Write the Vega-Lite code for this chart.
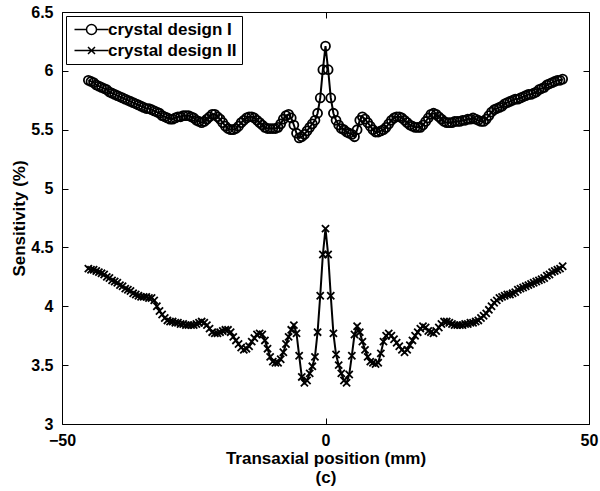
{
"$schema": "https://vega.github.io/schema/vega-lite/v6.json",
"width": 527, "height": 412,
"autosize": {"type": "none"},
"padding": {"left": 62, "top": 12, "right": 11, "bottom": 67},
"background": "white",
"config": {"view": {"stroke": "black", "strokeWidth": 1}, "font": "Liberation Sans"},
"data": {"values": [
{"x":-45,"I":5.92,"II":4.32},{"x":-44.5,"I":5.91,"II":4.31},{"x":-44,"I":5.90,"II":4.31},{"x":-43.5,"I":5.88,"II":4.30},{"x":-43,"I":5.87,"II":4.29},{"x":-42.5,"I":5.86,"II":4.28},{"x":-42,"I":5.85,"II":4.27},{"x":-41.5,"I":5.84,"II":4.25},{"x":-41,"I":5.82,"II":4.24},{"x":-40.5,"I":5.81,"II":4.22},
{"x":-40,"I":5.80,"II":4.21},{"x":-39.5,"I":5.79,"II":4.20},{"x":-39,"I":5.78,"II":4.18},{"x":-38.5,"I":5.77,"II":4.17},{"x":-38,"I":5.76,"II":4.15},{"x":-37.5,"I":5.75,"II":4.14},{"x":-37,"I":5.74,"II":4.13},{"x":-36.5,"I":5.73,"II":4.11},{"x":-36,"I":5.72,"II":4.10},{"x":-35.5,"I":5.71,"II":4.09},
{"x":-35,"I":5.70,"II":4.08},{"x":-34.5,"I":5.69,"II":4.08},{"x":-34,"I":5.68,"II":4.08},{"x":-33.5,"I":5.68,"II":4.07},{"x":-33,"I":5.67,"II":4.07},{"x":-32.5,"I":5.66,"II":4.05},{"x":-32,"I":5.65,"II":4.00},{"x":-31.5,"I":5.64,"II":3.96},{"x":-31,"I":5.62,"II":3.93},{"x":-30.5,"I":5.61,"II":3.90},
{"x":-30,"I":5.60,"II":3.88},{"x":-29.5,"I":5.59,"II":3.87},{"x":-29,"I":5.59,"II":3.87},{"x":-28.5,"I":5.60,"II":3.86},{"x":-28,"I":5.61,"II":3.86},{"x":-27.5,"I":5.61,"II":3.85},{"x":-27,"I":5.62,"II":3.85},{"x":-26.5,"I":5.62,"II":3.84},{"x":-26,"I":5.62,"II":3.84},{"x":-25.5,"I":5.61,"II":3.84},
{"x":-25,"I":5.60,"II":3.84},{"x":-24.5,"I":5.58,"II":3.85},{"x":-24,"I":5.57,"II":3.86},{"x":-23.5,"I":5.56,"II":3.87},{"x":-23,"I":5.57,"II":3.86},{"x":-22.5,"I":5.59,"II":3.84},{"x":-22,"I":5.61,"II":3.81},{"x":-21.5,"I":5.63,"II":3.78},{"x":-21,"I":5.63,"II":3.77},{"x":-20.5,"I":5.61,"II":3.77},
{"x":-20,"I":5.59,"II":3.78},{"x":-19.5,"I":5.56,"II":3.79},{"x":-19,"I":5.53,"II":3.80},{"x":-18.5,"I":5.51,"II":3.80},{"x":-18,"I":5.50,"II":3.78},{"x":-17.5,"I":5.50,"II":3.74},{"x":-17,"I":5.51,"II":3.71},{"x":-16.5,"I":5.53,"II":3.68},{"x":-16,"I":5.56,"II":3.65},{"x":-15.5,"I":5.58,"II":3.63},
{"x":-15,"I":5.60,"II":3.64},{"x":-14.5,"I":5.61,"II":3.66},{"x":-14,"I":5.61,"II":3.70},{"x":-13.5,"I":5.60,"II":3.73},{"x":-13,"I":5.58,"II":3.76},{"x":-12.5,"I":5.56,"II":3.77},{"x":-12,"I":5.54,"II":3.76},{"x":-11.5,"I":5.52,"II":3.71},{"x":-11,"I":5.51,"II":3.64},{"x":-10.5,"I":5.51,"II":3.57},
{"x":-10,"I":5.51,"II":3.53},{"x":-9.5,"I":5.51,"II":3.52},{"x":-9,"I":5.52,"II":3.52},{"x":-8.5,"I":5.55,"II":3.55},{"x":-8,"I":5.59,"II":3.61},{"x":-7.5,"I":5.62,"II":3.68},{"x":-7,"I":5.63,"II":3.74},{"x":-6.5,"I":5.60,"II":3.80},{"x":-6,"I":5.54,"II":3.84},{"x":-5.5,"I":5.47,"II":3.77},
{"x":-5,"I":5.43,"II":3.58},{"x":-4.5,"I":5.44,"II":3.40},{"x":-4,"I":5.46,"II":3.35},{"x":-3.5,"I":5.49,"II":3.37},{"x":-3,"I":5.52,"II":3.43},{"x":-2.5,"I":5.55,"II":3.49},{"x":-2,"I":5.58,"II":3.57},{"x":-1.5,"I":5.64,"II":3.78},{"x":-1,"I":5.77,"II":4.09},{"x":-0.5,"I":6.01,"II":4.44},
{"x":0,"I":6.21,"II":4.66},
{"x":0.5,"I":6.01,"II":4.44},{"x":1,"I":5.77,"II":4.09},{"x":1.5,"I":5.64,"II":3.77},{"x":2,"I":5.58,"II":3.59},{"x":2.5,"I":5.54,"II":3.50},{"x":3,"I":5.51,"II":3.43},{"x":3.5,"I":5.50,"II":3.37},{"x":4,"I":5.48,"II":3.35},{"x":4.5,"I":5.47,"II":3.42},{"x":5,"I":5.46,"II":3.58},
{"x":5.5,"I":5.44,"II":3.76},{"x":6,"I":5.50,"II":3.83},{"x":6.5,"I":5.58,"II":3.78},{"x":7,"I":5.61,"II":3.70},{"x":7.5,"I":5.59,"II":3.63},{"x":8,"I":5.56,"II":3.57},{"x":8.5,"I":5.53,"II":3.53},{"x":9,"I":5.50,"II":3.52},{"x":9.5,"I":5.48,"II":3.51},{"x":10,"I":5.48,"II":3.52},
{"x":10.5,"I":5.49,"II":3.60},{"x":11,"I":5.50,"II":3.70},{"x":11.5,"I":5.52,"II":3.75},{"x":12,"I":5.55,"II":3.77},{"x":12.5,"I":5.58,"II":3.75},{"x":13,"I":5.60,"II":3.72},{"x":13.5,"I":5.61,"II":3.69},{"x":14,"I":5.61,"II":3.66},{"x":14.5,"I":5.60,"II":3.63},{"x":15,"I":5.58,"II":3.61},
{"x":15.5,"I":5.56,"II":3.63},{"x":16,"I":5.54,"II":3.67},{"x":16.5,"I":5.53,"II":3.71},{"x":17,"I":5.52,"II":3.75},{"x":17.5,"I":5.52,"II":3.78},{"x":18,"I":5.52,"II":3.81},{"x":18.5,"I":5.54,"II":3.83},{"x":19,"I":5.57,"II":3.82},{"x":19.5,"I":5.60,"II":3.79},{"x":20,"I":5.63,"II":3.78},
{"x":20.5,"I":5.64,"II":3.77},{"x":21,"I":5.63,"II":3.79},{"x":21.5,"I":5.61,"II":3.82},{"x":22,"I":5.59,"II":3.85},{"x":22.5,"I":5.57,"II":3.87},{"x":23,"I":5.56,"II":3.87},{"x":23.5,"I":5.56,"II":3.86},{"x":24,"I":5.56,"II":3.85},{"x":24.5,"I":5.57,"II":3.84},{"x":25,"I":5.57,"II":3.84},
{"x":25.5,"I":5.57,"II":3.84},{"x":26,"I":5.58,"II":3.84},{"x":26.5,"I":5.58,"II":3.85},{"x":27,"I":5.59,"II":3.85},{"x":27.5,"I":5.59,"II":3.86},{"x":28,"I":5.60,"II":3.86},{"x":28.5,"I":5.59,"II":3.87},{"x":29,"I":5.58,"II":3.88},{"x":29.5,"I":5.57,"II":3.90},{"x":30,"I":5.57,"II":3.92},
{"x":30.5,"I":5.59,"II":3.94},{"x":31,"I":5.62,"II":3.97},{"x":31.5,"I":5.65,"II":4.00},{"x":32,"I":5.67,"II":4.03},{"x":32.5,"I":5.68,"II":4.05},{"x":33,"I":5.69,"II":4.07},{"x":33.5,"I":5.70,"II":4.08},{"x":34,"I":5.72,"II":4.09},{"x":34.5,"I":5.73,"II":4.10},{"x":35,"I":5.74,"II":4.10},
{"x":35.5,"I":5.75,"II":4.11},{"x":36,"I":5.76,"II":4.12},{"x":36.5,"I":5.76,"II":4.14},{"x":37,"I":5.77,"II":4.15},{"x":37.5,"I":5.78,"II":4.16},{"x":38,"I":5.79,"II":4.17},{"x":38.5,"I":5.80,"II":4.18},{"x":39,"I":5.80,"II":4.19},{"x":39.5,"I":5.81,"II":4.20},{"x":40,"I":5.82,"II":4.21},
{"x":40.5,"I":5.84,"II":4.22},{"x":41,"I":5.85,"II":4.23},{"x":41.5,"I":5.86,"II":4.24},{"x":42,"I":5.88,"II":4.26},{"x":42.5,"I":5.89,"II":4.27},{"x":43,"I":5.90,"II":4.29},{"x":43.5,"I":5.91,"II":4.30},{"x":44,"I":5.92,"II":4.31},{"x":44.5,"I":5.92,"II":4.32},{"x":45,"I":5.93,"II":4.34}
]},
"transform": [{"fold": ["I", "II"], "as": ["series", "y"]}],
"layer": [
{
"mark": {"type": "line", "color": "black", "strokeWidth": 2},
"encoding": {
"x": {"field": "x", "type": "quantitative", "scale": {"domain": [-50, 50], "nice": false, "zero": false},
"axis": {"orient": "bottom", "values": [-50, 0, 50], "format": "d", "domain": false, "grid": false, "tickSize": -6, "tickColor": "black", "tickWidth": 1, "labelFlush": false, "labelOverlap": false, "labelPadding": 14, "labelFontSize": 16, "labelFontWeight": "bold", "labelColor": "black", "labelFont": "Liberation Sans", "title": ["Transaxial position (mm)", "(c)"], "titleFontSize": 17, "titleFontWeight": "bold", "titleColor": "black", "titleFont": "Liberation Sans", "titleLineHeight": 19, "titlePadding": 2}},
"y": {"field": "y", "type": "quantitative", "scale": {"domain": [3, 6.5], "nice": false, "zero": false},
"axis": {"orient": "left", "values": [3, 3.5, 4, 4.5, 5, 5.5, 6, 6.5], "format": "~g", "domain": false, "grid": false, "tickSize": -6, "tickColor": "black", "tickWidth": 1, "labelFlush": false, "labelOverlap": false, "labelPadding": 15, "labelFontSize": 16, "labelFontWeight": "bold", "labelColor": "black", "labelFont": "Liberation Sans", "title": "Sensitivity (%)", "titleFontSize": 17, "titleFontWeight": "bold", "titleColor": "black", "titleFont": "Liberation Sans", "titlePadding": 2}},
"detail": {"field": "series", "type": "nominal"}
}
},
{
"mark": {"type": "point", "filled": false, "color": "black", "strokeWidth": 1.8, "size": 80, "opacity": 1},
"encoding": {
"x": {"field": "x", "type": "quantitative", "axis": null},
"y": {"field": "y", "type": "quantitative", "axis": null},
"shape": {"field": "series", "type": "nominal", "scale": {"domain": ["I", "II"], "range": ["circle", "M-0.8,-0.8L0.8,0.8M-0.8,0.8L0.8,-0.8"]}, "legend": null}
}
},
{
"mark": {"type": "point", "filled": false, "color": "black", "opacity": 0},
"encoding": {
"x": {"field": "x", "type": "quantitative", "axis": {"orient": "top", "values": [-50, 0, 50], "labels": false, "title": null, "domain": false, "grid": false, "tickSize": -6, "tickColor": "black", "tickWidth": 1}},
"y": {"field": "y", "type": "quantitative", "axis": {"orient": "right", "values": [3, 3.5, 4, 4.5, 5, 5.5, 6, 6.5], "labels": false, "title": null, "domain": false, "grid": false, "tickSize": -6, "tickColor": "black", "tickWidth": 1}},
"shape": {"field": "series", "type": "nominal",
"scale": {"domain": ["I", "II"], "range": ["M-3.4,0L-1,0M1,0L3.4,0M1,0A1,1,0,1,1,-1,0A1,1,0,1,1,1,0", "M-3.4,0L3.4,0M-0.7,-0.7L0.7,0.7M-0.7,0.7L0.7,-0.7"]},
"legend": {"title": null, "orient": "top-left", "offset": 4, "labelExpr": "'crystal design ' + datum.label", "symbolSize": 100, "symbolOffset": 12, "labelOffset": 8, "padding": 5, "rowPadding": 3, "strokeColor": "black", "fillColor": "white", "cornerRadius": 0, "labelFontSize": 17, "labelFontWeight": "bold", "labelColor": "black", "labelFont": "Liberation Sans", "symbolStrokeWidth": 1.5, "symbolStrokeColor": "black", "symbolFillColor": "transparent",
"encode": {"symbols": {"update": {"opacity": {"value": 1}, "stroke": {"value": "black"}, "strokeWidth": {"value": 1.5}, "fill": {"value": "transparent"}}}}}
}
}
}
],
"resolve": {"scale": {"shape": "independent"}, "axis": {"x": "independent", "y": "independent"}}
}
